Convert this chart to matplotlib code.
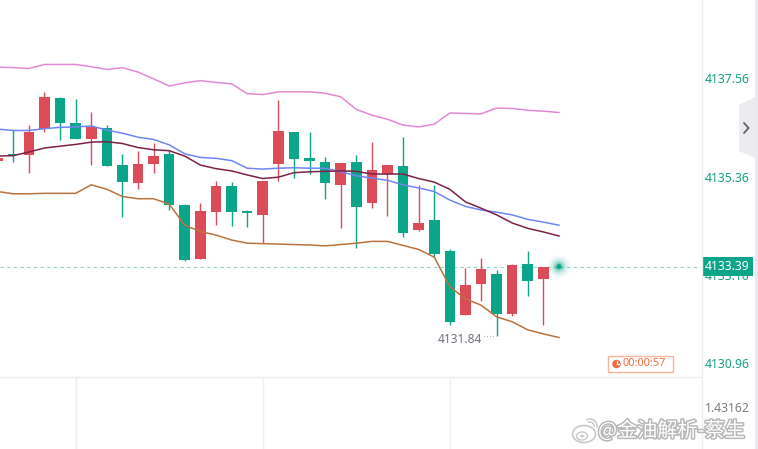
import matplotlib
matplotlib.use('Agg')
import matplotlib.pyplot as plt
from matplotlib.patches import Polygon, Rectangle, Circle, Ellipse, Arc
from matplotlib.lines import Line2D
import matplotlib.patheffects as pe
from matplotlib.transforms import blended_transform_factory, offset_copy

# ---------------- data ----------------
opens = [4135.74, 4135.90, 4135.87, 4136.45, 4137.14, 4136.59, 4136.23, 4136.48, 4135.65, 4135.25,
         4135.67, 4135.90, 4134.76, 4133.56, 4134.60, 4135.18, 4134.63, 4134.54, 4135.67, 4136.39,
         4135.81, 4135.72, 4135.21, 4135.72, 4134.80, 4135.45, 4135.63, 4134.20, 4134.43, 4133.74,
         4132.31, 4133.00, 4133.22, 4132.33, 4133.45, 4133.11]
highs = [4135.87, 4136.43, 4136.54, 4137.28, 4137.17, 4137.12, 4136.83, 4136.54, 4135.90, 4135.96,
         4136.14, 4135.99, 4134.78, 4134.80, 4135.29, 4135.27, 4134.65, 4135.29, 4137.10, 4136.39,
         4136.39, 4135.83, 4135.70, 4135.87, 4136.16, 4135.65, 4136.27, 4135.21, 4135.21, 4133.78,
         4133.36, 4133.58, 4133.31, 4133.45, 4133.74, 4133.39]
lows = [4135.65, 4135.72, 4135.47, 4136.39, 4136.21, 4136.23, 4135.65, 4135.63, 4134.49, 4135.12,
        4135.47, 4134.65, 4133.52, 4133.55, 4134.31, 4134.29, 4134.27, 4133.91, 4135.29, 4135.36,
        4135.45, 4134.89, 4134.25, 4133.80, 4134.69, 4134.52, 4134.05, 4134.18, 4133.58, 4132.09,
        4132.31, 4132.62, 4131.84, 4132.29, 4132.73, 4132.09]
closes = [4135.81, 4135.87, 4136.39, 4137.17, 4136.59, 4136.23, 4136.50, 4135.63, 4135.27, 4135.67,
          4135.85, 4134.76, 4133.54, 4134.63, 4135.18, 4134.60, 4134.58, 4135.29, 4136.41, 4135.78,
          4135.74, 4135.25, 4135.70, 4134.72, 4135.54, 4135.65, 4134.14, 4134.36, 4133.67, 4132.15,
          4132.98, 4133.33, 4132.33, 4133.42, 4133.07, 4133.39]

upper_band = [4137.83, 4137.82, 4137.80, 4137.89, 4137.89, 4137.89, 4137.84, 4137.78, 4137.82, 4137.72,
              4137.57, 4137.41, 4137.48, 4137.53, 4137.49, 4137.46, 4137.24, 4137.22, 4137.28, 4137.28,
              4137.28, 4137.25, 4137.17, 4136.89, 4136.76, 4136.67, 4136.54, 4136.50, 4136.56, 4136.81,
              4136.80, 4136.79, 4136.92, 4136.91, 4136.87, 4136.85, 4136.82]
blue_ma = [4136.45, 4136.42, 4136.42, 4136.46, 4136.49, 4136.50, 4136.52, 4136.43, 4136.36, 4136.27,
           4136.22, 4136.10, 4135.90, 4135.82, 4135.80, 4135.75, 4135.58, 4135.56, 4135.58, 4135.59,
           4135.58, 4135.58, 4135.50, 4135.41, 4135.36, 4135.31, 4135.21, 4135.14, 4135.06, 4134.87,
           4134.73, 4134.65, 4134.60, 4134.54, 4134.44, 4134.38, 4134.31]
mid_ma = [4135.85, 4135.86, 4135.94, 4136.03, 4136.07, 4136.11, 4136.16, 4136.17, 4136.13, 4136.04,
          4135.99, 4135.97, 4135.85, 4135.65, 4135.57, 4135.52, 4135.43, 4135.35, 4135.38, 4135.48,
          4135.50, 4135.51, 4135.52, 4135.51, 4135.45, 4135.45, 4135.45, 4135.35, 4135.27, 4135.11,
          4134.83, 4134.69, 4134.54, 4134.36, 4134.24, 4134.16, 4134.07]
lower_band = [4135.06, 4135.01, 4135.01, 4135.02, 4135.02, 4135.02, 4135.21, 4135.11, 4134.95, 4134.90,
              4134.90, 4134.78, 4134.31, 4134.17, 4134.09, 4133.98, 4133.91, 4133.90, 4133.89, 4133.88,
              4133.87, 4133.85, 4133.88, 4133.91, 4133.95, 4133.95, 4133.86, 4133.77, 4133.60, 4132.94,
              4132.67, 4132.53, 4132.27, 4132.16, 4131.98, 4131.89, 4131.81]

price_ticks = [4137.56, 4135.36, 4133.16, 4130.96]
price_tick_labels = ['4137.56', '4135.36', '4133.16', '4130.96']
grid_positions = [5, 17, 29]
current_price = 4133.39
current_label = '4133.39'
low_label = '4131.84'
timer_text = '00:00:57'
indicator_value = '1.43162'
watermark = '@金油解析-蔡生'

# ---------------- styles ----------------
UP = '#dc4b58'
DOWN = '#0ba68a'
AXIS_TXT = '#12a085'
W, H = 758, 449

def fx(px):
    return px / W

def fy(py):
    return 1 - py / H

plt.rcParams['font.family'] = ['Noto Sans', 'DejaVu Sans']

fig = plt.figure(figsize=(W / 100, H / 100), dpi=100)
fig.patch.set_facecolor('white')

# main price pane
ax = fig.add_axes([0, fy(376), fx(701), 376 / H])
ax.set_xlim(0.1475, 45.11)
ax.set_ylim(4130.952, 4139.326)
ax.axis('off')

n = len(opens)
for i in range(n):
    o, h, l, c = opens[i], highs[i], lows[i], closes[i]
    col = UP if c >= o else DOWN
    ax.vlines(i, l, h, color=col, lw=1.0, zorder=2)
    bot = min(o, c)
    hgt = max(abs(c - o), 0.03)
    ax.bar(i, hgt, bottom=bot, width=0.68, color=col, edgecolor='none', zorder=2)

xs = list(range(len(upper_band)))
ax.plot(xs, upper_band, color='#e08ad4', lw=1.1, zorder=3, solid_joinstyle='round')
ax.plot(xs, blue_ma, color='#6f86f2', lw=1.1, zorder=3, solid_joinstyle='round')
ax.plot(xs, mid_ma, color='#7d2148', lw=1.1, zorder=3, solid_joinstyle='round')
ax.plot(xs, lower_band, color='#b8743f', lw=1.1, zorder=3, solid_joinstyle='round')

# current price dashed line
ax.axhline(current_price, color='#8fd5c5', lw=0.8, ls=(0, (3, 3)), zorder=1)

# glowing dot at the end of the lines
last_x = xs[-1]
for s, a in [(260, 0.06), (150, 0.10), (80, 0.18), (35, 0.35)]:
    ax.scatter([last_x], [current_price], s=s, color=DOWN, alpha=a, edgecolors='none', zorder=4)
ax.scatter([last_x], [current_price], s=12, color=DOWN, edgecolors='none', zorder=5)

# low label with dotted leader
low_idx = lows.index(min(lows))
tr_low = offset_copy(ax.transData, fig=fig, x=-14, y=-3, units='dots')
ax.text(low_idx, min(lows), low_label, transform=tr_low, ha='right', va='center',
        fontsize=8.6, color='#6f7480', zorder=5)
tr_dot = offset_copy(ax.transData, fig=fig, x=0, y=0, units='dots')
ax.plot([low_idx - 0.8, low_idx - 0.12], [min(lows), min(lows)], color='#9aa0aa', lw=0.9,
        ls=(0, (0.6, 1.6)), zorder=5)

# right price axis labels
bt = blended_transform_factory(ax.transAxes, ax.transData)
x_lab = 1 + 4 / 701
for v, lab in zip(price_ticks[:3], price_tick_labels[:3]):
    ax.text(x_lab, v, lab, transform=bt, ha='left', va='center', fontsize=8.8,
            color=AXIS_TXT, clip_on=False, zorder=1)
tr_bottom = offset_copy(bt, fig=fig, x=0, y=11, units='dots')
ax.text(x_lab, price_ticks[3], price_tick_labels[3], transform=tr_bottom, ha='left', va='center',
        fontsize=8.8, color=AXIS_TXT, clip_on=False)

# current price tag
ax.text(x_lab, current_price, current_label, transform=bt, ha='left', va='center', fontsize=8.8,
        color='white', clip_on=False, zorder=10,
        bbox=dict(boxstyle='square,pad=0.28', fc=DOWN, ec='none'))

# bottom indicator pane
ax2 = fig.add_axes([0, 0, fx(701), 72 / H])
ax2.set_xlim(0.1475, 45.11)
ax2.set_ylim(0, 1)
ax2.axis('off')
for g in grid_positions:
    ax2.axvline(g, color='#efefef', lw=1.0)
fig.text(fx(705), fy(408), indicator_value, ha='left', va='center', fontsize=8.8, color='#7d7f86')

# separators
fig.add_artist(Line2D([0, fx(701)], [fy(376.5), fy(376.5)], color='#ececec', lw=1.0,
                      transform=fig.transFigure))
fig.add_artist(Line2D([fx(701.5), fx(701.5)], [0, 1], color='#eeeeee', lw=1.0,
                      transform=fig.transFigure))
# right edge strip
fig.add_artist(Rectangle((fx(755), 0), 3 / W, 1, transform=fig.transFigure,
                         fc='#e9e9ee', ec='none'))
# collapse tab
tab = Polygon([(fx(739), fy(105)), (fx(755), fy(97)), (fx(755), fy(158)), (fx(739), fy(151))],
              closed=True, transform=fig.transFigure, fc='#ebebf0', ec='none')
fig.add_artist(tab)
fig.add_artist(Line2D([fx(744), fx(748.5), fx(744)], [fy(123), fy(128), fy(133)],
                      color='#5f6168', lw=1.3, transform=fig.transFigure,
                      solid_capstyle='round', solid_joinstyle='miter'))

# countdown timer box
fig.add_artist(Rectangle((fx(608), fy(372)), 65 / W, 16 / H, transform=fig.transFigure,
                         fc='white', ec='#f8b49c', lw=1.0))
fig.add_artist(Ellipse((fx(616.5), fy(364)), 8.5 / W, 8.5 / H, transform=fig.transFigure,
                       fc='#f36c42', ec='none'))
fig.add_artist(Line2D([fx(616.5), fx(616.5), fx(619)], [fy(361), fy(364), fy(364)],
                      color='white', lw=0.9, transform=fig.transFigure))
fig.text(fx(622.5), fy(364), timer_text, ha='left', va='center', fontsize=8.0, color='#f36c42')

# watermark logo
fig.add_artist(Ellipse((fx(584), fy(434)), 23 / W, 17 / H, transform=fig.transFigure,
                       fc='white', ec='#c9c9c9', lw=1.2))
fig.add_artist(Ellipse((fx(582), fy(436)), 11 / W, 8 / H, transform=fig.transFigure,
                       fc='white', ec='#c9c9c9', lw=1.0))
fig.add_artist(Ellipse((fx(582), fy(436)), 3.5 / W, 3 / H, transform=fig.transFigure,
                       fc='#c9c9c9', ec='none'))
fig.add_artist(Arc((fx(590), fy(426)), 8 / W, 8 / H, theta1=-20, theta2=110,
                   transform=fig.transFigure, color='#c9c9c9', lw=1.1))
fig.add_artist(Arc((fx(590), fy(426)), 14 / W, 14 / H, theta1=-20, theta2=110,
                   transform=fig.transFigure, color='#c9c9c9', lw=1.1))

fig.text(fx(598), fy(431), watermark, ha='left', va='center', fontsize=14.5, color='white',
         family=['Noto Sans CJK SC', 'DejaVu Sans'],
         path_effects=[pe.withStroke(linewidth=2.2, foreground='#b8b8b8')])

fig.savefig('out.png', dpi=100, facecolor='white')
